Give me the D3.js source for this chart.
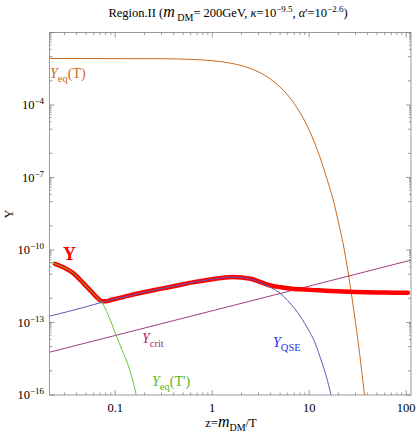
<!DOCTYPE html>
<html>
<head>
<meta charset="utf-8">
<script src="https://cdn.jsdelivr.net/npm/d3@7"></script>
<style>
  body { margin: 0; background: #fff; }
  svg { display: block; font-family: "Liberation Serif", "DejaVu Serif", serif; }
</style>
</head>
<body>
<svg id="chart" width="417" height="436"></svg>
<script>
// values: z = m_DM/T, and log10(Y)
const yZ   = [0.0239, 0.0292, 0.037, 0.0469, 0.0573, 0.0671, 0.073, 0.08, 0.09, 0.12, 0.18, 0.29, 0.434, 0.644, 0.959, 1.3, 1.61, 2.0, 2.49, 3.15, 4.0, 5.08, 6.97, 10.4, 16.7, 30, 60, 104];
const yLog = [-10.57, -10.71, -10.96, -11.37, -11.74, -12.02, -12.12, -12.12, -12.07, -11.95, -11.78, -11.61, -11.47, -11.33, -11.22, -11.15, -11.12, -11.14, -11.19, -11.33, -11.47, -11.54, -11.61, -11.65, -11.70, -11.74, -11.76, -11.77];

const qseZ   = [0.021, 0.05, 0.08, 0.09, 0.12, 0.18, 0.29, 0.434, 0.644, 0.959, 1.3, 1.61, 2.0, 2.49, 3.15, 4.0, 5.08, 6.0, 7.0, 8.18, 10, 11.2, 13, 15.4, 17.5];
const qseLog = [-12.74, -12.35, -12.12, -12.07, -11.96, -11.79, -11.61, -11.47, -11.33, -11.22, -11.15, -11.12, -11.14, -11.20, -11.36, -11.55, -11.81, -12.09, -12.40, -12.78, -13.36, -13.74, -14.45, -15.40, -16.3];

const eqHidZ   = [0.021, 0.0239, 0.0292, 0.037, 0.0469, 0.0573, 0.0671, 0.073, 0.0845, 0.1023, 0.118, 0.1328, 0.1497, 0.1646, 0.175];
const eqHidLog = [-10.50, -10.57, -10.71, -10.96, -11.37, -11.74, -12.02, -12.18, -12.68, -13.54, -14.16, -14.65, -15.32, -16.0, -16.5];

const eqZ   = [0.021, 0.3, 0.6, 1, 1.5, 2, 3, 4, 5, 7, 10, 13, 15, 18, 20, 23, 25, 28, 30, 33, 35, 38];
const eqLog = [-2.076, -2.086, -2.113, -2.166, -2.259, -2.37, -2.634, -2.932, -3.254, -3.94, -5.046, -6.196, -6.976, -8.05, -8.85, -10.0, -10.85, -12.15, -13.0, -14.25, -15.1, -16.35];

const critZ   = [0.021, 112];
const critLog = [-14.23, -10.42];

const xTickVals = [0.1, 1, 10, 100];
const xTickText = ['0.1', '1', '10', '100'];
const yTickExp  = [-16, -13, -10, -7, -4];

const svg = d3.select('#chart');
const pLeft = 49.5, pRight = 411, pTop = 32.5, pBottom = 395;

const x = d3.scaleLog().domain([0.021, 112]).range([pLeft, pRight]);
const y = d3.scaleLog().domain([1e-16, 1e-1]).range([pBottom, pTop]);

svg.append('defs').append('clipPath').attr('id', 'clip')
  .append('rect').attr('x', pLeft).attr('y', pTop)
  .attr('width', pRight - pLeft).attr('height', pBottom - pTop);

const pairs = (zs, ls) => zs.map((z, i) => [z, Math.pow(10, ls[i])]);
const line = d3.line()
  .x(d => x(d[0]))
  .y(d => y(d[1]))
  .curve(d3.curveMonotoneX);

const plot = svg.append('g').attr('clip-path', 'url(#clip)');

function curve(data, color, width) {
  plot.append('path')
    .attr('d', line(data))
    .attr('fill', 'none')
    .attr('stroke', color)
    .attr('stroke-width', width)
    .attr('stroke-linejoin', 'round')
    .attr('stroke-linecap', 'round');
}

curve(pairs(eqZ, eqLog), '#c8691e', 1);
curve(pairs(critZ, critLog), '#a0407e', 1);
curve(pairs(yZ, yLog), '#ff0000', 4.5);
curve(pairs(qseZ, qseLog), '#5a5ab4', 1);
curve(pairs(eqHidZ, eqHidLog), '#6cc43a', 1);

// frame
svg.append('rect')
  .attr('x', pLeft).attr('y', pTop)
  .attr('width', pRight - pLeft).attr('height', pBottom - pTop)
  .attr('fill', 'none').attr('stroke', '#9a9a9a').attr('stroke-width', 1);

const ticks = svg.append('g').attr('stroke', '#808080').attr('stroke-width', 0.8);

// x ticks, bottom and top
for (let e = -2; e <= 2; e++) {
  for (let k = 1; k <= 9; k++) {
    const v = k * Math.pow(10, e);
    if (v < x.domain()[0] || v > x.domain()[1]) continue;
    const len = k === 1 ? 5 : 2.5;
    const px = x(v);
    ticks.append('line').attr('x1', px).attr('x2', px).attr('y1', pBottom).attr('y2', pBottom - len);
    ticks.append('line').attr('x1', px).attr('x2', px).attr('y1', pTop).attr('y2', pTop + len);
  }
}

// y ticks, left and right
yTickExp.concat([-1]).forEach(m => {
  const marks = [[m, 5], [m - 1, 3], [m - 2, 3]];
  for (let k = 2; k <= 9; k++) marks.push([m - 1 + Math.log10(k), 2]);
  marks.forEach(([lv, len]) => {
    if (lv < -16 || lv > -1) return;
    const py = y(Math.pow(10, lv));
    ticks.append('line').attr('x1', pLeft).attr('x2', pLeft + len).attr('y1', py).attr('y2', py);
    ticks.append('line').attr('x1', pRight).attr('x2', pRight - len).attr('y1', py).attr('y2', py);
  });
});

// tick labels
xTickVals.forEach((v, i) => {
  svg.append('text')
    .attr('x', x(v)).attr('y', 412)
    .attr('text-anchor', 'middle')
    .attr('font-size', 12.5)
    .text(xTickText[i]);
});

yTickExp.forEach(e => {
  const t = svg.append('text')
    .attr('x', 44).attr('y', y(Math.pow(10, e)) + 4)
    .attr('text-anchor', 'end')
    .attr('font-size', 12.5);
  t.append('tspan').text('10');
  t.append('tspan').attr('dy', -5).attr('font-size', 9).text('\u2212' + Math.abs(e));
});

// rich text helper: parts = [text, kind, size] with kind in '', 'i', 'sub', 'sup'
function rich(xp, yp, size, color, parts, anchor) {
  const t = svg.append('text')
    .attr('x', xp).attr('y', yp)
    .attr('font-size', size)
    .attr('fill', color)
    .attr('text-anchor', anchor || 'start');
  let shift = 0;
  parts.forEach(([str, kind, fs]) => {
    const s = t.append('tspan').text(str);
    let target = 0;
    if (kind === 'sub') { target = size * 0.3; s.attr('font-size', fs || size * 0.72); }
    else if (kind === 'sup') { target = -size * 0.38; s.attr('font-size', fs || size * 0.72); }
    else if (kind === 'i') { s.attr('font-style', 'italic'); if (fs) s.attr('font-size', fs); }
    else if (fs) s.attr('font-size', fs);
    if (target !== shift) { s.attr('dy', target - shift); shift = target; }
  });
  return t;
}

// title
rich(228, 17, 12.5, '#000', [
  ['Region.II (', ''], ['m', 'i', 16], [' DM', 'sub', 10], ['= 200GeV, ', ''],
  ['\u03ba', 'i'], ['=10', ''], ['\u22129.5', 'sup', 9], [', ', ''],
  ['\u03b1', 'i'], ['\'=10', ''], ['\u22122.6', 'sup', 9], [')', '']
], 'middle');

// axis titles
rich(231, 427, 12.5, '#000', [
  ['z=', ''], ['m', 'i', 16], ['DM', 'sub', 10], ['/T', '']
], 'middle');

svg.append('text')
  .attr('transform', 'translate(13,214) rotate(-90)')
  .attr('text-anchor', 'middle')
  .attr('font-size', 12.5)
  .text('Y');

// curve labels
rich(50, 78, 14, '#c8691e', [['Y', 'i'], ['eq', 'sub', 10.5], ['(T)', '']]);
svg.append('text')
  .attr('x', 63).attr('y', 260)
  .attr('font-size', 18).attr('font-weight', 'bold')
  .attr('fill', '#ff0000').text('Y');
rich(142, 343, 14, '#b41e64', [['Y', 'i'], ['crit', 'sub', 10.5]]);
rich(273, 347, 14, '#2828f0', [['Y', 'i'], ['QSE', 'sub', 10.5]]);
rich(152, 386, 14, '#5ab428', [['Y', 'i'], ['eq', 'sub', 10.5], ['(T\')', '']]);
</script>
</body>
</html>
